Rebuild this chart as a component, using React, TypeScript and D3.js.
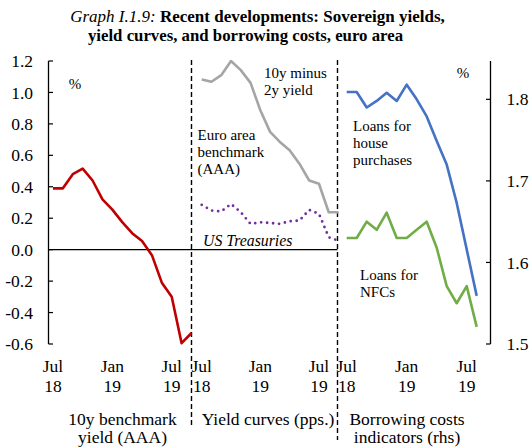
import React from "react";
import * as d3 from "d3";

const benchmark10y = [0.39, 0.39, 0.48, 0.515, 0.44, 0.32, 0.255, 0.175, 0.105, 0.055, -0.035, -0.21, -0.30, -0.595, -0.53];
const euroSpread = [1.083, 1.068, 1.11, 1.2, 1.142, 1.061, 0.887, 0.749, 0.685, 0.632, 0.547, 0.44, 0.419, 0.238, 0.238];
const usSpread = [0.285, 0.249, 0.243, 0.29, 0.238, 0.164, 0.174, 0.17, 0.164, 0.181, 0.185, 0.253, 0.228, 0.079, 0.057];
const loansHouse = [1.809, 1.809, 1.79, 1.798, 1.808, 1.798, 1.818, 1.8, 1.779, 1.749, 1.72, 1.673, 1.616, 1.559];
const loansNFC = [1.63, 1.63, 1.65, 1.64, 1.661, 1.63, 1.63, 1.64, 1.65, 1.618, 1.571, 1.55, 1.571, 1.521];

const xTickIdx = [0, 6, 12];
const xTickMonth = ["Jul", "Jan", "Jul"];
const xTickYear = ["18", "19", "19"];
const leftTicks = [-0.6, -0.4, -0.2, 0.0, 0.2, 0.4, 0.6, 0.8, 1.0, 1.2];
const rightTicks = [1.5, 1.6, 1.7, 1.8];

const FONT = "'Liberation Serif', 'Times New Roman', serif";

export default function App() {
  const W = 530, H = 448;
  const yL = d3.scaleLinear().domain([-0.6, 1.2]).range([344, 61]);
  const yR = d3.scaleLinear().domain([1.5, 1.847]).range([344, 61]);
  const x1 = d3.scaleLinear().domain([0, 14]).range([53, 191.5]);
  const x2 = d3.scaleLinear().domain([0, 14]).range([201.7, 338.5]);
  const x3 = d3.scaleLinear().domain([0, 13]).range([346.7, 476.7]);

  const mk = (xs: d3.ScaleLinear<number, number>, ys: d3.ScaleLinear<number, number>) =>
    d3.line<number>().x((_, i) => xs(i)).y((d) => ys(d));

  const axisFs = 17.5;
  const axisText = { fontFamily: FONT, fontSize: axisFs, fill: "#000" };
  const noteText = { fontFamily: FONT, fontSize: 15, fill: "#000" };

  const xLabels = (xs: d3.ScaleLinear<number, number>, key: string) =>
    xTickIdx.map((idx, i) => (
      <g key={key + i}>
        <text x={xs(idx)} y={372.3} textAnchor="middle" {...axisText}>{xTickMonth[i]}</text>
        <text x={xs(idx)} y={391.7} textAnchor="middle" {...axisText}>{xTickYear[i]}</text>
      </g>
    ));

  return (
    <svg width={W} height={H} style={{ position: "absolute", left: 0, top: 0, background: "#fff" }}>
      <rect x={0} y={0} width={W} height={H} fill="#fff" />
      {/* Title */}
      <text x={257.5} y={21.5} textAnchor="middle" fontFamily={FONT} fontSize={17}>
        <tspan fontStyle="italic">Graph I.1.9: </tspan>
        <tspan fontWeight="bold">Recent developments: Sovereign yields,</tspan>
      </text>
      <text x={245.5} y={41} textAnchor="middle" fontFamily={FONT} fontSize={16.8} fontWeight="bold">
        yield curves, and borrowing costs, euro area
      </text>

      {/* Left axis */}
      <line x1={48.5} x2={48.5} y1={61} y2={344} stroke="#000" strokeWidth={1.3} />
      {leftTicks.map((t) => (
        <g key={"lt" + t}>
          <line x1={48.5} x2={53} y1={yL(t)} y2={yL(t)} stroke="#000" strokeWidth={1.2} />
          <text x={33} y={yL(t)} dy="0.35em" textAnchor="end" {...axisText}>{t.toFixed(1)}</text>
        </g>
      ))}
      {/* zero line */}
      <line x1={48.5} x2={337.5} y1={yL(0)} y2={yL(0)} stroke="#000" strokeWidth={1.2} />

      {/* Right axis */}
      <line x1={490.5} x2={490.5} y1={61} y2={344} stroke="#000" strokeWidth={1.3} />
      {rightTicks.map((t) => (
        <g key={"rt" + t}>
          <line x1={486} x2={490.5} y1={yR(t)} y2={yR(t)} stroke="#000" strokeWidth={1.2} />
          <text x={506.5} y={yR(t)} dy="0.35em" textAnchor="start" {...axisText}>{t.toFixed(1)}</text>
        </g>
      ))}

      {/* Dividers */}
      <line x1={191.5} x2={191.5} y1={60} y2={428} stroke="#000" strokeWidth={1.4} strokeDasharray="5,3" />
      <line x1={337.5} x2={337.5} y1={60} y2={440} stroke="#000" strokeWidth={1.4} strokeDasharray="5,3" />

      {/* Series */}
      <path d={mk(x1, yL)(benchmark10y) || ""} fill="none" stroke="#C00000" strokeWidth={2.6} strokeLinejoin="round" />
      <path d={mk(x2, yL)(euroSpread) || ""} fill="none" stroke="#A5A5A5" strokeWidth={2.6} strokeLinejoin="round" />
      <path d={mk(x2, yL)(usSpread) || ""} fill="none" stroke="#7030A0" strokeWidth={2.8} strokeLinecap="round" strokeDasharray="0,6" />
      <path d={mk(x3, yR)(loansHouse) || ""} fill="none" stroke="#4472C4" strokeWidth={2.6} strokeLinejoin="round" />
      <path d={mk(x3, yR)(loansNFC) || ""} fill="none" stroke="#70AD47" strokeWidth={2.6} strokeLinejoin="round" />

      {/* Annotations */}
      <text x={75} y={84} dy="0.35em" textAnchor="middle" {...noteText}>%</text>
      <text x={463} y={73} dy="0.35em" textAnchor="middle" {...noteText}>%</text>
      <text x={264} y={73} dy="0.35em" {...noteText}>10y minus</text>
      <text x={264} y={90} dy="0.35em" {...noteText}>2y yield</text>
      <text x={197.5} y={135} dy="0.35em" {...noteText}>Euro area</text>
      <text x={197.5} y={152} dy="0.35em" {...noteText}>benchmark</text>
      <text x={197.5} y={169} dy="0.35em" {...noteText}>(AAA)</text>
      <text x={203} y={240.5} dy="0.35em" fontStyle="italic" {...noteText} fontSize={15.8}>US Treasuries</text>
      <text x={353} y={126} dy="0.35em" {...noteText}>Loans for</text>
      <text x={353} y={143} dy="0.35em" {...noteText}>house</text>
      <text x={353} y={160} dy="0.35em" {...noteText}>purchases</text>
      <text x={360} y={274.5} dy="0.35em" {...noteText}>Loans for</text>
      <text x={360} y={291.5} dy="0.35em" {...noteText}>NFCs</text>

      {/* X labels */}
      {xLabels(x1, "a")}
      {xLabels(x2, "b")}
      {xLabels(x3, "c")}

      {/* Panel titles */}
      <text x={122.5} y={424.5} textAnchor="middle" {...axisText}>10y benchmark</text>
      <text x={122.5} y={443} textAnchor="middle" {...axisText}>yield (AAA)</text>
      <text x={268} y={424.5} textAnchor="middle" {...axisText}>Yield curves (pps.)</text>
      <text x={407} y={424.5} textAnchor="middle" {...axisText}>Borrowing costs</text>
      <text x={407} y={443} textAnchor="middle" {...axisText}>indicators (rhs)</text>
    </svg>
  );
}
